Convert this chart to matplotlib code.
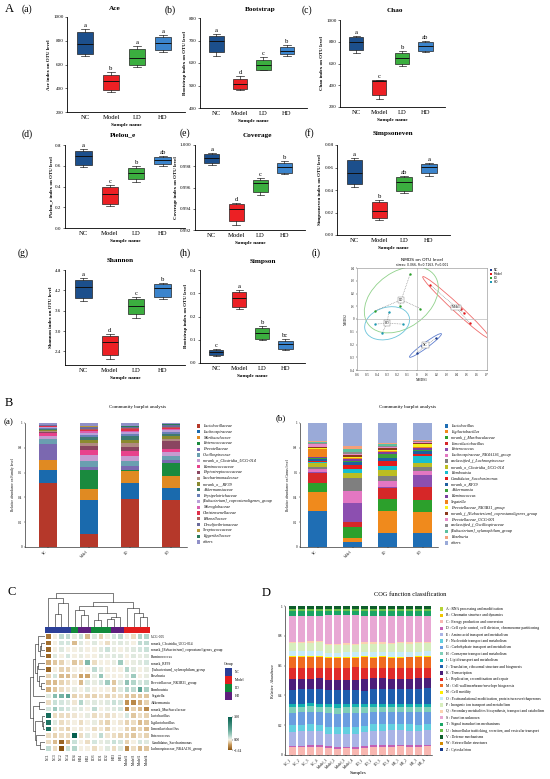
import numpy as np
import matplotlib
matplotlib.use('Agg')
import matplotlib.pyplot as plt
from matplotlib.patches import Ellipse, Rectangle
from matplotlib.colors import LinearSegmentedColormap, Normalize, ListedColormap

plt.rcParams['font.family'] = ['Liberation Serif', 'DejaVu Serif']

# ---------------- DATA ----------------
groups = ['NC', 'Model', 'LD', 'HD']
box_colors = ['#1c4f8c', '#ec2024', '#3bae3f', '#3b84cc']

# five-number summaries (whislo, q1, median, q3, whishi)
ace = [(670, 690, 775, 870, 895), (368, 382, 461, 511, 534), (579, 593, 655, 733, 753), (702, 719, 781, 831, 851)]
ace_sig = ['a', 'b', 'a', 'a']
bootstrap = [(633, 647, 696, 721, 729), (479, 484, 507, 530, 541), (567, 570, 593, 615, 627), (633, 640, 655, 670, 681)]
bootstrap_sig = ['a', 'd', 'c', 'b']
chao = [(701, 725, 801, 841, 853), (276, 313, 435, 444, 450), (579, 597, 649, 701, 719), (710, 719, 762, 795, 811)]
chao_sig = ['a', 'c', 'b', 'ab']
pielou = [(0.592, 0.608, 0.694, 0.746, 0.762), (0.208, 0.234, 0.330, 0.394, 0.416),
          (0.448, 0.470, 0.534, 0.576, 0.598), (0.602, 0.618, 0.656, 0.682, 0.698)]
pielou_sig = ['a', 'c', 'b', 'ab']
coverage = [(0.99812, 0.99827, 0.99875, 0.99915, 0.99928), (0.99247, 0.99288, 0.99398, 0.99442, 0.99457),
            (0.99529, 0.99555, 0.99645, 0.99671, 0.99686), (0.99724, 0.99740, 0.99796, 0.99834, 0.99853)]
coverage_sig = ['a', 'd', 'c', 'b']
simpsoneven = [(0.0424, 0.0450, 0.0554, 0.0667, 0.0687), (0.0133, 0.0148, 0.0216, 0.0296, 0.0311),
               (0.0370, 0.0394, 0.0468, 0.0513, 0.0527), (0.0524, 0.0548, 0.0607, 0.0631, 0.0643)]
simpsoneven_sig = ['a', 'b', 'ab', 'a']
shannon = [(3.89, 3.986, 4.31, 4.506, 4.555), (2.18, 2.30, 2.69, 2.869, 2.908),
           (3.398, 3.496, 3.75, 3.937, 3.996), (3.947, 4.016, 4.28, 4.378, 4.427)]
shannon_sig = ['a', 'd', 'c', 'b']
simpson = [(0.0314, 0.0357, 0.047, 0.0571, 0.0614), (0.233, 0.243, 0.281, 0.304, 0.314),
           (0.097, 0.104, 0.129, 0.150, 0.157), (0.054, 0.060, 0.081, 0.096, 0.103)]
simpson_sig = ['c', 'a', 'b', 'bc']

# NMDS
nmds_nc = [(0.194, -0.148), (0.100, -0.205), (0.048, -0.209), (-0.003, -0.268)]
nmds_model = [(0.133, 0.268), (0.440, 0.077), (0.466, 0.050), (0.527, -0.034)]
nmds_ld = [(-0.068, 0.355), (-0.420, 0.064), (-0.173, 0.103), (0.034, 0.082)]
nmds_hd = [(-0.282, 0.056), (-0.420, -0.040), (-0.143, -0.040), (-0.350, -0.111)]
nmds_colors = ['#1f3f8f', '#e41a1c', '#2ca02c', '#1f9bb4']
nmds_ell_colors = ['#5f7fcf', '#ef6b6b', '#8fd18a', '#69c3da']

# Family level community composition (NC, Model, LD, HD)
family_names = ['Lactobacillaceae', 'Lachnospiraceae', 'Muribaculaceae', 'Enterococcaceae', 'Prevotellaceae',
                'Oscillospiraceae', 'norank_o_Clostridia_UCG-014', 'Ruminococcaceae', 'Peptostreptococcaceae',
                'Saccharimonadaceae', 'norank_o__RF39', 'Akkermansiaceae', 'Erysipelotrichaceae',
                '[Eubacterium]_coprostanoligenes_group', 'Monoglobaceae', 'Christensenellaceae', 'Rikenellaceae',
                'Desulfovibrionaceae', 'Streptococcaceae', 'Eggerthellaceae', 'others']
family_colors = ['#b5382a', '#1a6aad', '#e08a22', '#1a8a3e', '#7b68b0', '#6a9fb0', '#c69bd0', '#e8428c',
                 '#8a4560', '#b08a80', '#8a8a30', '#3f7a70', '#6a80b8', '#b8a0d8', '#d860b0', '#e0304a',
                 '#b05a5a', '#6a6a9a', '#b8983a', '#2a7a5a', '#9090c8']
family_NC = [0.519, 0.105, 0.075, 0.005, 0.128, 0.040, 0.024, 0.020, 0.008, 0.010, 0.008, 0.010, 0.008,
             0.006, 0.004, 0.004, 0.003, 0.003, 0.002, 0.003, 0.015]
family_Model = [0.108, 0.268, 0.094, 0.148, 0.027, 0.049, 0.046, 0.045, 0.027, 0.027, 0.020, 0.027, 0.020,
                0.017, 0.010, 0.012, 0.008, 0.015, 0.004, 0.006, 0.022]
family_LD = [0.385, 0.134, 0.090, 0.013, 0.030, 0.045, 0.040, 0.035, 0.032, 0.032, 0.027, 0.035, 0.015,
             0.015, 0.010, 0.010, 0.008, 0.010, 0.003, 0.005, 0.026]
family_HD = [0.380, 0.094, 0.102, 0.099, 0.027, 0.035, 0.027, 0.027, 0.062, 0.019, 0.027, 0.013, 0.013,
             0.015, 0.012, 0.010, 0.008, 0.010, 0.003, 0.005, 0.012]

# Genus level
genus_names = ['Lactobacillus', 'Ligilactobacillus', 'norank_f_Muribaculaceae', 'Limosilactobacillus',
               'Enterococcus', 'Lachnospiraceae_NK4A136_group', 'unclassified_f_Lachnospiraceae',
               'norank_o_Clostridia_UCG-014', 'Romboutsia', 'Candidatus_Saccharimonas', 'norank_o_RF39',
               'Akkermansia', 'Ruminococcus', 'Segatella', 'Prevotellaceae_NK3B31_group',
               'norank_f_[Eubacterium]_coprostanoligenes_group', 'Prevotellaceae_UCG-001',
               'unclassified_f_Oscillospiraceae', '[Eubacterium]_xylanophilum_group', 'Roseburia', 'others']
genus_colors = ['#1f6eb4', '#f08a1c', '#2ca02c', '#d62728', '#8c4fb0', '#e377c2', '#7f7f7f', '#bcbd22',
                '#17becf', '#e41a1c', '#1f5fa0', '#3ca03c', '#7a3fa0', '#f0821c', '#f5f020', '#8b3a1a',
                '#e88ac8', '#8c8c8c', '#5cc0a0', '#f4a07a', '#9aaad8']
genus_NC = [0.288, 0.156, 0.077, 0.077, 0.005, 0.027, 0.020, 0.027, 0.008, 0.012, 0.012, 0.010, 0.010,
            0.060, 0.010, 0.008, 0.025, 0.010, 0.005, 0.010, 0.145]
genus_Model = [0.040, 0.034, 0.090, 0.041, 0.151, 0.100, 0.100, 0.047, 0.027, 0.036, 0.020, 0.014, 0.014,
               0.008, 0.010, 0.012, 0.008, 0.015, 0.027, 0.022, 0.190]
genus_LD = [0.115, 0.173, 0.101, 0.090, 0.005, 0.050, 0.038, 0.049, 0.036, 0.038, 0.022, 0.036, 0.012,
            0.010, 0.012, 0.010, 0.012, 0.010, 0.012, 0.008, 0.164]
genus_HD = [0.110, 0.172, 0.101, 0.104, 0.101, 0.027, 0.033, 0.036, 0.055, 0.019, 0.022, 0.010, 0.010,
            0.010, 0.022, 0.012, 0.008, 0.006, 0.006, 0.005, 0.137]

# Heatmap
heat_rows = ['UCG-005', 'norank_Clostridia_UCG-014', 'norank_[Eubacterium]_coprostanoligenes_group',
             'Ruminococcus', 'norank_RF39', '[Eubacterium]_xylanophilum_group', 'Roseburia',
             'Prevotellaceae_NK3B31_group', 'Romboutsia', 'Segatella', 'Akkermansia', 'norank_Muribaculaceae',
             'Lactobacillus', 'Ligilactobacillus', 'Limosilactobacillus', 'Enterococcus',
             'Candidatus_Saccharimonas', 'Lachnospiraceae_NK4A136_group']
heat_cols = ['NC1', 'NC3', 'NC2', 'NC4', 'LD4', 'HD4', 'HD2', 'LD3', 'LD1', 'LD2', 'HD3', 'HD1',
             'Model1', 'Model3', 'Model2', 'Model4']
heat_col_group = ['NC', 'NC', 'NC', 'NC', 'LD', 'HD', 'HD', 'LD', 'LD', 'LD', 'HD', 'HD',
                  'Model', 'Model', 'Model', 'Model']
heat_values = [
    [-1.2, 0.0, 0.5, 0.5, 0.1, 0.4, -0.5, 0.2, -0.3, 0.0, 0.3, 0.5, 0.0, -0.2, 0.6, 0.6],
    [-1.3, 0.0, 0.3, 0.3, -0.5, 0.2, 0.0, 0.2, 0.0, -0.2, 0.1, 0.2, 0.1, 0.0, 0.5, 0.5],
    [-1.4, 0.0, 0.2, 0.0, 0.0, 0.1, 0.0, 0.0, 0.2, 0.4, 0.1, 0.0, 0.1, 0.2, 0.3, 0.4],
    [-1.4, 0.2, 0.0, 0.3, 0.0, 0.1, 0.0, 0.0, 0.2, 0.1, 0.2, 0.2, 0.0, 0.2, 0.1, 0.2],
    [-0.6, -0.4, -0.3, 0.0, -0.4, -0.3, 1.2, -0.2, 0.0, 0.0, 0.1, 0.8, 0.0, 0.1, 0.2, 0.3],
    [-1.4, 0.0, -0.3, -0.3, 0.0, 0.0, 0.0, 0.5, 0.2, 0.0, 0.0, 0.0, 0.6, 0.2, 0.0, 0.1],
    [-0.3, 0.3, -0.5, -0.5, -0.2, -0.7, -0.7, 0.1, 0.9, 0.0, 0.0, 0.0, 0.2, 0.8, 0.0, 0.1],
    [-0.5, -0.5, -0.3, -0.2, 0.0, -0.5, 0.2, 0.1, 0.3, 0.8, -0.4, 0.2, 1.0, 0.6, 0.3, 0.4],
    [-0.6, -0.4, -0.2, -0.1, 0.1, 0.0, 0.2, 0.0, 0.0, 0.0, -0.3, 0.2, 0.6, 0.5, 1.6, 0.7],
    [0.2, 1.1, 1.3, 1.6, -0.3, -0.2, -0.3, -0.3, -0.2, -0.3, -0.2, -0.2, -0.4, -0.4, -0.4, -0.4],
    [-0.2, 0.4, 0.3, 0.2, -0.1, 0.6, 0.1, 0.2, 0.1, 0.2, 0.4, 0.3, -0.9, -1.0, -0.6, -0.3],
    [0.3, 0.8, 0.4, 0.3, 0.1, 0.2, 0.0, 0.5, 0.0, 0.1, 0.2, 0.3, -1.0, -0.3, -0.5, -1.0],
    [3.2, -0.2, -0.2, -0.2, -0.1, 0.0, 0.1, -0.2, -0.1, -0.2, -0.1, 0.0, 0.3, -0.4, -0.2, -0.3],
    [3.0, 0.2, -0.2, -0.1, 0.0, -0.2, 0.0, 0.1, -0.2, -0.3, 0.0, -0.1, -0.3, -0.2, -0.5, -0.4],
    [3.1, -0.1, -0.2, -0.3, 0.0, -0.1, 0.0, -0.2, -0.1, -0.3, 0.0, 0.0, -0.3, -0.4, -0.3, -0.5],
    [-0.2, -0.3, -0.2, -0.2, 3.6, -0.2, 0.2, 0.0, 0.5, -0.1, -0.2, -0.3, -0.3, -0.4, -0.2, -0.3],
    [-0.2, -0.5, -1.4, -0.6, 0.4, 0.0, -0.2, 0.3, 0.1, 0.2, 0.4, 0.3, -0.3, 0.0, 0.3, 0.2],
    [0.5, -0.2, -1.64, 0.4, 0.6, 0.0, 0.0, -0.2, 0.0, 0.2, -0.2, 0.2, -1.0, -0.2, -0.5, -0.4],
]
# dendrogram merges: (node_a, node_b, height)
col_links = [(1, 2, 0.38), (16, 3, 0.70), (0, 17, 0.85), (5, 6, 0.35), (4, 19, 0.50), (7, 8, 0.20),
             (9, 10, 0.22), (22, 11, 0.30), (21, 23, 0.40), (20, 24, 0.60), (14, 15, 0.30),
             (13, 26, 0.42), (12, 27, 0.55), (25, 28, 0.72), (18, 29, 1.00)]
row_links = [(1, 2, 0.25), (18, 3, 0.35), (0, 19, 0.50), (4, 5, 0.45), (7, 8, 0.30), (6, 22, 0.40),
             (21, 23, 0.55), (20, 24, 0.70), (25, 9, 0.80), (10, 11, 0.40), (13, 14, 0.15),
             (12, 28, 0.20), (16, 17, 0.35), (15, 30, 0.60), (29, 31, 0.70), (27, 32, 0.85),
             (26, 33, 1.00)]
group_colors = {'NC': '#2b3f98', 'Model': '#e31d1d', 'LD': '#118a3a', 'HD': '#5e1f7e'}

# COG
cog_samples = ['NC_1', 'NC_2', 'NC_3', 'NC_4', 'Model_1', 'Model_2', 'Model_3', 'Model_4',
               'LD_1', 'LD_2', 'LD_3', 'LD_4', 'HD_1', 'HD_2', 'HD_3', 'HD_4']
cog_labels = ['A : RNA processing and modification', 'B : Chromatin structure and dynamics',
              'C : Energy production and conversion',
              'D : Cell cycle control, cell division, chromosome partitioning',
              'E : Amino acid transport and metabolism', 'F : Nucleotide transport and metabolism',
              'G : Carbohydrate transport and metabolism', 'H : Coenzyme transport and metabolism',
              'I : Lipid transport and metabolism', 'J : Translation, ribosomal structure and biogenesis',
              'K : Transcription', 'L : Replication, recombination and repair',
              'M : Cell wall/membrane/envelope biogenesis', 'N : Cell motility',
              'O : Posttranslational modification, protein turnover/chaperones',
              'P : Inorganic ion transport and metabolism',
              'Q : Secondary metabolites biosynthesis, transport and catabolism', 'S : Function unknown',
              'T : Signal transduction mechanisms',
              'U : Intracellular trafficking, secretion, and vesicular transport', 'V : Defense mechanisms',
              'W : Extracellular structures', 'Z : Cytoskeleton']
cog_colors = ['#b5d334', '#f2c500', '#f8b7b1', '#c45fb5', '#aab4e6', '#63cfe0', '#6a9ee0', '#7fcfb8',
              '#14b1b0', '#1f5fad', '#4b1f7a', '#e02a2a', '#f06a1f', '#ffee00', '#c7ecf8', '#d7edbd',
              '#fbd2b0', '#e8a7d4', '#1aa564', '#6cc04a', '#0e5e2c', '#d48b00', '#173c8c']
cog_pct = [
    [0.10, 0.10, 0.10, 0.10, 0.10, 0.10, 0.10, 0.10, 0.10, 0.10, 0.10, 0.10, 0.10, 0.10, 0.10, 0.10],
    [0.05, 0.05, 0.05, 0.05, 0.05, 0.05, 0.05, 0.05, 0.05, 0.05, 0.05, 0.05, 0.05, 0.05, 0.05, 0.05],
    [5.0, 5.2, 5.3, 5.4, 4.6, 4.2, 4.5, 4.0, 4.8, 5.5, 5.3, 5.6, 5.6, 5.5, 5.4, 5.8],
    [1.0, 1.0, 1.1, 1.0, 1.1, 1.1, 1.0, 1.1, 1.0, 1.0, 1.1, 1.0, 1.0, 1.1, 1.0, 1.0],
    [9.5, 9.8, 9.7, 9.6, 8.5, 8.8, 8.6, 9.0, 9.5, 9.7, 10.0, 10.2, 10.0, 9.8, 9.9, 10.0],
    [4.3, 4.2, 4.3, 4.2, 4.8, 4.9, 4.8, 5.2, 4.5, 4.3, 4.2, 4.0, 4.1, 4.2, 4.1, 4.0],
    [8.2, 8.3, 8.2, 8.4, 9.0, 9.2, 9.4, 9.3, 8.6, 8.2, 8.3, 8.0, 8.0, 8.1, 8.2, 8.0],
    [3.9, 3.8, 3.9, 3.8, 4.0, 4.1, 4.0, 4.1, 3.9, 3.8, 3.8, 3.7, 3.7, 3.8, 3.7, 3.7],
    [2.0, 2.0, 2.1, 2.0, 2.1, 2.2, 2.1, 2.2, 2.0, 2.0, 2.0, 1.9, 1.9, 2.0, 1.9, 1.9],
    [10.0, 9.8, 9.9, 10.0, 9.4, 9.5, 9.6, 9.8, 9.4, 10.2, 10.0, 10.4, 10.3, 10.2, 10.4, 10.3],
    [6.8, 6.9, 6.8, 7.0, 6.9, 7.2, 7.0, 7.0, 8.0, 7.0, 7.2, 6.9, 6.9, 7.0, 7.0, 7.1],
    [7.6, 7.2, 7.3, 7.0, 8.0, 8.2, 8.0, 8.4, 7.6, 6.8, 7.0, 7.0, 6.8, 7.0, 6.9, 6.8],
    [7.4, 7.5, 7.5, 7.6, 6.8, 6.6, 6.9, 6.7, 7.1, 7.3, 7.3, 7.3, 7.4, 7.3, 7.4, 7.2],
    [0.6, 0.6, 0.6, 0.6, 0.7, 0.7, 0.7, 0.7, 0.6, 0.6, 0.6, 0.6, 0.6, 0.6, 0.6, 0.6],
    [3.3, 3.3, 3.3, 3.3, 3.0, 3.0, 3.1, 3.0, 3.2, 3.3, 3.3, 3.3, 3.3, 3.3, 3.3, 3.3],
    [5.5, 5.4, 5.5, 5.6, 5.0, 5.1, 5.0, 5.0, 5.4, 5.5, 5.4, 5.5, 5.6, 5.5, 5.5, 5.6],
    [0.8, 0.8, 0.8, 0.8, 0.8, 0.8, 0.8, 0.8, 0.8, 0.8, 0.8, 0.8, 0.8, 0.8, 0.8, 0.8],
    [17.5, 17.3, 17.0, 17.0, 19.5, 19.8, 19.0, 19.8, 18.0, 17.8, 17.9, 18.2, 17.7, 17.9, 17.6, 17.3],
    [3.4, 3.5, 3.5, 3.4, 3.3, 3.2, 3.3, 3.2, 3.5, 3.6, 3.5, 3.5, 3.5, 3.5, 3.6, 3.6],
    [1.2, 1.2, 1.2, 1.2, 1.1, 1.1, 1.1, 1.1, 1.2, 1.2, 1.2, 1.2, 1.2, 1.2, 1.2, 1.2],
    [1.9, 1.9, 1.9, 1.9, 1.8, 1.8, 1.8, 1.8, 1.9, 1.9, 1.9, 1.9, 1.9, 1.9, 1.9, 1.9],
    [0.10, 0.10, 0.10, 0.10, 0.10, 0.10, 0.10, 0.10, 0.10, 0.10, 0.10, 0.10, 0.10, 0.10, 0.10, 0.10],
    [0.10, 0.10, 0.10, 0.10, 0.10, 0.10, 0.10, 0.10, 0.10, 0.10, 0.10, 0.10, 0.10, 0.10, 0.10, 0.10],
]

# ---------------- FIGURE ----------------
W, H = 550, 779
fig = plt.figure(figsize=(5.5, 7.79), dpi=100)


def add_ax(l, t, r, b):
    return fig.add_axes([l / W, 1 - b / H, (r - l) / W, (b - t) / H])


def ftext(x, y, s, **kw):
    kw.setdefault('ha', 'left')
    kw.setdefault('va', 'center')
    fig.text(x / W, 1 - y / H, s, **kw)


def fig_rect(x, y, w, h, color):
    fig.patches.append(Rectangle((x / W, 1 - (y + h) / H), w / W, h / H, transform=fig.transFigure,
                                 facecolor=color, edgecolor='none'))


# ---------- Panel A: box plots ----------
box_panels = [
    (ace, ace_sig, 'Ace', 'Ace index on OTU level', [200, 400, 600, 800, 1000], (200, 1000), '{:.0f}',
     (67, 17, 185, 112), (115, 8), '(a)', (22, 9)),
    (bootstrap, bootstrap_sig, 'Bootstrap', 'Bootstrap index on OTU level', [400, 500, 600, 700, 800],
     (400, 800), '{:.0f}', (200, 18, 307, 108), (260, 9), '(b)', (165, 10)),
    (chao, chao_sig, 'Chao', 'Chao index on OTU level', [200, 400, 600, 800, 1000], (200, 1000), '{:.0f}',
     (340, 20, 445, 107), (395, 10), '(c)', (302, 10)),
    (pielou, pielou_sig, 'Pielou_e', 'Pielou_e index on OTU level', [0.0, 0.2, 0.4, 0.6, 0.8], (0, 0.8),
     '{:.1f}', (65, 145, 185, 228), (123, 135), '(d)', (22, 134)),
    (coverage, coverage_sig, 'Coverage', 'Coverage index on OTU level', [0.992, 0.994, 0.996, 0.998, 1.000],
     (0.992, 1.0), '{:.3f}', (195, 145, 305, 230), (257, 136), '(e)', (180, 133)),
    (simpsoneven, simpsoneven_sig, 'Simpsoneven', 'Simpsoneven index on OTU level',
     [0.00, 0.02, 0.04, 0.06, 0.08], (0, 0.08), '{:.2f}', (337, 145, 450, 235), (393, 134), '(f)', (305, 133)),
    (shannon, shannon_sig, 'Shannon', 'Shannon index on OTU level', [2.4, 3.0, 3.6, 4.2, 4.8], (2.0, 4.8),
     '{:.1f}', (65, 270, 185, 365), (120, 260), '(g)', (18, 253)),
    (simpson, simpson_sig, 'Simpson', 'Bootstrap index on OTU level', [0.0, 0.1, 0.2, 0.3, 0.4], (0, 0.4),
     '{:.1f}', (200, 270, 305, 363), (263, 262), '(h)', (180, 253)),
]

for summ, sig, title, ylab, yt, yl, fmt, rect, tpos, letter, lpos in box_panels:
    ax = add_ax(*rect)
    stats = [dict(whislo=s[0], q1=s[1], med=s[2], q3=s[3], whishi=s[4], label=g) for s, g in zip(summ, groups)]
    bp = ax.bxp(stats, positions=range(4), widths=0.62, patch_artist=True, showfliers=False,
                boxprops=dict(linewidth=0.5, edgecolor='#222222'),
                medianprops=dict(color='#111111', linewidth=0.7),
                whiskerprops=dict(color='#222222', linewidth=0.5),
                capprops=dict(color='#222222', linewidth=0.5), capwidths=0.3)
    for patch, c in zip(bp['boxes'], box_colors):
        patch.set_facecolor(c)
    rng = yl[1] - yl[0]
    for i, (s, l) in enumerate(zip(summ, sig)):
        ax.text(i, s[4] + 0.012 * rng, l, ha='center', va='bottom', fontsize=4.8)
    ax.set_ylim(*yl)
    ax.set_xlim(-0.7, 3.85)
    ax.set_yticks(yt)
    ax.set_yticklabels([fmt.format(v) for v in yt], fontsize=3.6)
    ax.set_xticks(range(4))
    ax.set_xticklabels(groups, fontsize=4.8)
    ax.tick_params(axis='x', length=0, pad=2.5)
    ax.tick_params(axis='y', length=1.5, width=0.4, pad=1)
    for sp in ['top', 'right']:
        ax.spines[sp].set_visible(False)
    for sp in ['left', 'bottom']:
        ax.spines[sp].set_linewidth(0.6)
    ax.set_ylabel(ylab, fontsize=3.6, fontweight='bold', labelpad=1.5)
    ax.set_xlabel('Sample name', fontsize=3.8, fontweight='bold', labelpad=2)
    ftext(tpos[0], tpos[1], title, fontsize=5.2, fontweight='bold', ha='center')
    ftext(lpos[0], lpos[1], letter, fontsize=7)

ftext(5, 9, 'A', fontsize=9)

# ---------- Panel A (i): NMDS ----------
ftext(312, 253, '(i)', fontsize=7)
axn = add_ax(357, 268, 487, 370)
axn.set_xlim(-0.6, 0.7)
axn.set_ylim(-0.4, 0.4)
axn.axhline(0, color='#bbbbbb', lw=0.5)
axn.axvline(0, color='#bbbbbb', lw=0.5)
for pts, c, ec, g in zip([nmds_nc, nmds_model, nmds_ld, nmds_hd], nmds_colors, nmds_ell_colors, groups):
    arr = np.array(pts)
    cen = arr.mean(axis=0)
    cov = np.cov(arr.T)
    evals, vecs = np.linalg.eigh(cov)
    order = evals.argsort()[::-1]
    evals, vecs = evals[order], vecs[:, order]
    ang = np.degrees(np.arctan2(vecs[1, 0], vecs[0, 0]))
    nstd = 1.9
    e = Ellipse(cen, 2 * nstd * np.sqrt(evals[0]), 2 * nstd * np.sqrt(max(evals[1], 1e-5)), angle=ang,
                facecolor='none', edgecolor=ec, lw=0.6)
    axn.add_patch(e)
    for p in arr:
        axn.plot([cen[0], p[0]], [cen[1], p[1]], ls=(0, (1.5, 1.5)), color='#777777', lw=0.4)
    axn.scatter(arr[:, 0], arr[:, 1], s=3, color=c, zorder=3, linewidths=0)
    axn.text(cen[0], cen[1], g, fontsize=2.3, ha='center', va='center', zorder=4,
             bbox=dict(boxstyle='square,pad=0.3', fc='white', ec='#777777', lw=0.3))
xt = [-0.6, -0.5, -0.4, -0.3, -0.2, -0.1, 0, 0.1, 0.2, 0.3, 0.4, 0.5, 0.6, 0.7]
yt = [-0.4, -0.3, -0.2, -0.1, 0, 0.1, 0.2, 0.3, 0.4]
axn.set_xticks(xt)
axn.set_xticklabels([('%g' % v) for v in xt], fontsize=2.2)
axn.set_yticks(yt)
axn.set_yticklabels([('%g' % v) for v in yt], fontsize=2.2)
axn.tick_params(length=1, width=0.3, pad=0.8)
for sp in axn.spines.values():
    sp.set_linewidth(0.4)
    sp.set_color('#888888')
axn.set_xlabel('NMDS1', fontsize=2.5, labelpad=1)
axn.set_ylabel('NMDS2', fontsize=2.5, labelpad=1)
ftext(422, 260, 'NMDS on OTU level', fontsize=3.2, ha='center', family=['DejaVu Sans'])
ftext(422, 264.5, 'stress: 0.066, R=0.7163, P=0.001', fontsize=2.2, ha='center', family=['DejaVu Sans'])
for i, (g, c) in enumerate(zip(groups, nmds_colors)):
    y = 270 + i * 4
    fig_rect(490, y - 1.2, 2.4, 2.4, c)
    ftext(494, y, g, fontsize=2.2, family=['DejaVu Sans'])

# ---------- Panel B: community barplots ----------
ftext(5, 403, 'B', fontsize=9)


def stacked(ax, data_cols, colors, xlim, width):
    bottoms = np.zeros(4)
    arr = np.array(data_cols, dtype=float)  # shape (4, n)
    arr = arr / arr.sum(axis=1, keepdims=True)
    for j in range(arr.shape[1]):
        ax.bar(range(4), arr[:, j], bottom=bottoms, width=width, color=colors[j], linewidth=0)
        bottoms += arr[:, j]
    ax.set_xlim(*xlim)
    ax.set_ylim(0, 1)
    ax.set_yticks([0, 0.2, 0.4, 0.6, 0.8, 1])
    ax.set_yticklabels(['0', '0.2', '0.4', '0.6', '0.8', '1'], fontsize=2.4)
    ax.set_xticks(range(4))
    ax.set_xticklabels(groups, fontsize=2.4, rotation=45, ha='right')
    ax.tick_params(length=1, width=0.3, pad=0.8)
    for sp in ['top', 'right']:
        ax.spines[sp].set_visible(False)
    for sp in ['left', 'bottom']:
        ax.spines[sp].set_linewidth(0.4)


axba = add_ax(25, 423, 187, 547)
stacked(axba, [family_NC, family_Model, family_LD, family_HD], family_colors, (-0.56, 3.4), 0.44)
axba.set_ylabel('Relative abundance on Family level', fontsize=2.6, labelpad=2)
ftext(138, 407, 'Community barplot analysis', fontsize=3.6, ha='center')
ftext(4, 422, '(a)', fontsize=6.5)
for i, (nm, c) in enumerate(zip(family_names, family_colors)):
    y = 426 + i * 5.8
    fig_rect(197, y - 1.6, 3.2, 3.2, c)
    ftext(203, y, nm, fontsize=3.0, style='italic')

axbb = add_ax(300, 423, 438, 547)
stacked(axbb, [genus_NC, genus_Model, genus_LD, genus_HD], genus_colors, (-0.5, 3.43), 0.54)
axbb.set_ylabel('Relative abundance on Genus level', fontsize=2.6, labelpad=2)
ftext(408, 407, 'Community barplot analysis', fontsize=3.6, ha='center')
ftext(276, 418, '(b)', fontsize=6.5)
for i, (nm, c) in enumerate(zip(genus_names, genus_colors)):
    y = 426 + i * 5.85
    fig_rect(445, y - 1.6, 3.2, 3.2, c)
    ftext(451, y, nm, fontsize=3.0, style='italic')

# ---------- Panel C: heatmap ----------
ftext(8, 592, 'C', fontsize=9)
vals = np.array(heat_values)
vmin, vmax = -1.64, 3.6
stops = [(-1.64, '#8a5412'), (-0.8, '#c89a5c'), (-0.25, '#ead9bb'), (0.0, '#f4efe2'), (0.3, '#d3e6de'),
         (0.8, '#9fcbbf'), (1.6, '#5ea595'), (3.6, '#06604f')]
cmap = LinearSegmentedColormap.from_list('brtl', [((v - vmin) / (vmax - vmin), c) for v, c in stops])
norm = Normalize(vmin=vmin, vmax=vmax)
axc = add_ax(45, 633, 150, 752)
mesh = axc.pcolormesh(np.arange(len(heat_cols) + 1), np.arange(len(heat_rows) + 1), vals, cmap=cmap,
                      norm=norm, edgecolors='white', linewidth=0.3)
axc.set_xlim(0, len(heat_cols))
axc.set_ylim(len(heat_rows), 0)
axc.yaxis.tick_right()
axc.set_yticks(np.arange(len(heat_rows)) + 0.5)
axc.set_yticklabels(heat_rows, fontsize=2.6)
axc.set_xticks(np.arange(len(heat_cols)) + 0.5)
axc.set_xticklabels(heat_cols, fontsize=2.6, rotation=90)
axc.tick_params(length=0, pad=1)
for sp in axc.spines.values():
    sp.set_visible(False)

axg = add_ax(45, 627, 150, 632.5)
gidx = [groups.index(g) for g in heat_col_group]
axg.pcolormesh(np.arange(len(heat_cols) + 1), [0, 1], [gidx],
               cmap=ListedColormap([group_colors[g] for g in groups]), vmin=-0.5, vmax=3.5)
axg.set_axis_off()


def draw_dendro(ax, links, n, orient):
    pos = {i: i + 0.5 for i in range(n)}
    hgt = {i: 0.0 for i in range(n)}
    for k, (a, b, h) in enumerate(links):
        xs = [pos[a], pos[a], pos[b], pos[b]]
        ys = [hgt[a], h, h, hgt[b]]
        if orient == 'top':
            ax.plot(xs, ys, color='#333333', lw=0.45)
        else:
            ax.plot(ys, xs, color='#333333', lw=0.45)
        pos[n + k] = (pos[a] + pos[b]) / 2
        hgt[n + k] = h


axdt = add_ax(45, 592, 150, 627)
draw_dendro(axdt, col_links, len(heat_cols), 'top')
axdt.set_xlim(0, len(heat_cols))
axdt.set_ylim(0, 1.02)
axdt.set_axis_off()

axdl = add_ax(30, 633, 45, 752)
draw_dendro(axdl, row_links, len(heat_rows), 'left')
axdl.set_xlim(1.02, 0)
axdl.set_ylim(len(heat_rows), 0)
axdl.set_axis_off()

ftext(224, 664, 'Group', fontsize=2.8)
for i, g in enumerate(groups):
    y = 668 + i * 8
    fig_rect(225, y, 7, 7.5, group_colors[g])
    ftext(235, y + 3.7, g, fontsize=2.6)

axcb = add_ax(228, 717, 231.5, 750)
cb = fig.colorbar(mesh, cax=axcb, ticks=[-1.64, 0, 3.6])
cb.ax.set_yticklabels(['\u22121.64', '0.00', '3.60'], fontsize=2.5)
cb.ax.tick_params(length=0.8, width=0.3, pad=1)
cb.outline.set_visible(False)

# ---------- Panel D: COG ----------
ftext(262, 593, 'D', fontsize=9)
axd = add_ax(285, 606, 432, 755)
cog = np.array(cog_pct, dtype=float)
cog = cog / cog.sum(axis=0, keepdims=True)
bot = np.zeros(len(cog_samples))
for j in range(cog.shape[0]):
    axd.bar(range(len(cog_samples)), cog[j], bottom=bot, width=0.78, color=cog_colors[j], linewidth=0)
    bot += cog[j]
axd.set_xlim(-0.78, 15.55)
axd.set_ylim(0, 1)
axd.set_yticks([0, 0.2, 0.4, 0.6, 0.8, 1])
axd.set_yticklabels(['0', '0.2', '0.4', '0.6', '0.8', '1'], fontsize=2.6)
axd.set_xticks(range(len(cog_samples)))
axd.set_xticklabels(cog_samples, fontsize=2.6, rotation=45, ha='right')
axd.tick_params(length=1, width=0.3, pad=0.8)
for sp in ['top', 'right']:
    axd.spines[sp].set_visible(False)
for sp in ['left', 'bottom']:
    axd.spines[sp].set_linewidth(0.4)
axd.set_ylabel('Relative  Abundance', fontsize=3.0, labelpad=2)
axd.set_xlabel('Samples', fontsize=3.6, labelpad=1)
ftext(410, 594, 'COG function classification', fontsize=4.6, ha='center')
for i, (lab, c) in enumerate(zip(cog_labels, cog_colors)):
    y = 609 + i * 6.4
    fig_rect(440, y - 1.7, 3.4, 3.4, c)
    ftext(446, y, lab, fontsize=2.7)

fig.savefig('out.png', dpi=100)
